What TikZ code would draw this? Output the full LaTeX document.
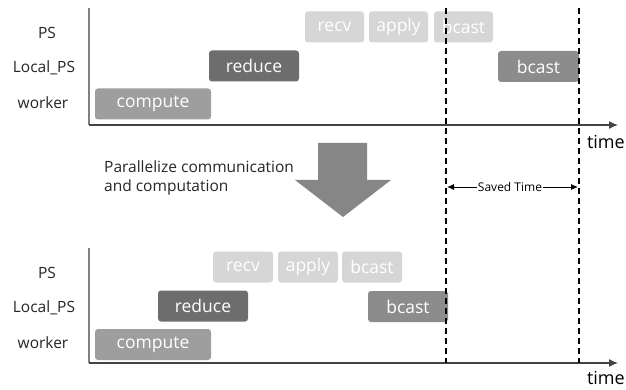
\documentclass[tikz,border=0pt]{standalone}
\usepackage{fontspec}
\setmainfont{Open Sans}
\usetikzlibrary{arrows.meta}
\definecolor{cmpgray}{HTML}{9E9E9E}
\definecolor{redgray}{HTML}{6D6D6D}
\definecolor{psgray}{HTML}{D6D6D6}
\definecolor{bcgray}{HTML}{8C8C8C}
\definecolor{axisgray}{HTML}{444444}
\tikzset{
  task/.style={rounded corners=3pt, minimum height=31pt, inner sep=0pt,
    text=white, font=\fontsize{17.5}{19}\selectfont},
  lbl/.style={font=\fontsize{15.5}{19}\selectfont, text=black!85},
  timelbl/.style={font=\fontsize{18}{20}\selectfont, inner sep=0pt},
  axis/.style={axisgray, line width=1.2pt, -{Latex[length=9pt,width=8pt]}},
  yaxis/.style={gray, line width=1.2pt},
  mark line/.style={black, line width=1.4pt, dash pattern=on 6pt off 4pt}
}
\begin{document}
\begin{tikzpicture}[x=1pt,y=-1pt]
    \useasboundingbox (0,0) rectangle (626,390);
    %% Before: row labels and axes
    \node[lbl] (ps1)  at (47,33)  {PS};
    \node[lbl] (lps1) at (44,68)  {Local\_PS};
    \node[lbl] (wk1)  at (43,103) {worker};
    \coordinate (top1) at (89,8);
    \coordinate (org1) at (89,125);
    \coordinate (end1) at (618,125);
    \draw[yaxis] (top1) -- (org1);
    \draw[axis] (org1) -- (end1);
    \node[timelbl, anchor=east] (time1) at (625,142) {time};
    %% Before: tasks
    \node[task, fill=cmpgray, minimum width=116pt] (cmp1)  at (153,104)   {compute};
    \node[task, fill=redgray, minimum width=90pt]  (red1)  at (254,66)    {reduce};
    \node[task, fill=psgray,  minimum width=59pt]  (recv1) at (334.5,27)  {recv};
    \node[task, fill=psgray,  minimum width=59pt]  (app1)  at (398.5,27)  {apply};
    \node[task, fill=psgray,  minimum width=59pt]  (bps1)  at (463.5,27)  {bcast};
    \node[task, fill=bcgray,  minimum width=81pt]  (blp1)  at (538.5,66.5) {bcast};
    %% Transition arrow
    \fill[gray!95] (318,143) -- (367,143) -- (367,180) -- (391,180) -- (343,217)
        -- (295,180) -- (318,180) -- cycle;
    \node[lbl, anchor=north west, align=left, inner sep=0pt] (par) at (104,161)
        {Parallelize communication\\and computation};
    %% After: row labels and axes
    \node[lbl] (ps2)  at (47,273)  {PS};
    \node[lbl] (lps2) at (44,308)  {Local\_PS};
    \node[lbl] (wk2)  at (43,343)  {worker};
    \coordinate (top2) at (89,248);
    \coordinate (org2) at (89,363);
    \coordinate (end2) at (618,363);
    \draw[yaxis] (top2) -- (org2);
    \draw[axis] (org2) -- (end2);
    \node[timelbl, anchor=base east] (time2) at (625,384) {time};
    %% After: tasks
    \node[task, fill=cmpgray, minimum width=116pt] (cmp2)  at (153,344.5) {compute};
    \node[task, fill=redgray, minimum width=90pt]  (red2)  at (203,306)   {reduce};
    \node[task, fill=psgray,  minimum width=60pt]  (recv2) at (243,267)   {recv};
    \node[task, fill=psgray,  minimum width=60pt]  (app2)  at (308,267)   {apply};
    \node[task, fill=psgray,  minimum width=60pt]  (bps2)  at (372,267)   {bcast};
    \node[task, fill=bcgray,  minimum width=80pt]  (blp2)  at (408,306.5) {bcast};
    %% Saved time markers
    \coordinate (m1a) at (446,8);
    \coordinate (m1b) at (446,363);
    \coordinate (m2a) at (579,8);
    \coordinate (m2b) at (579,363);
    \draw[mark line] (m1a) -- (m1b);
    \draw[mark line] (m2a) -- (m2b);
    \coordinate (s1) at (447,187);
    \coordinate (s2) at (578,187);
    \node[font=\fontsize{12}{14}\selectfont, fill=white, inner sep=1pt] (saved) at (510,187) {Saved Time};
    \draw[-{Latex[length=7pt,width=6pt]}, line width=0.9pt] (saved.west) -- (s1);
    \draw[-{Latex[length=7pt,width=6pt]}, line width=0.9pt] (saved.east) -- (s2);
\end{tikzpicture}
\end{document}
